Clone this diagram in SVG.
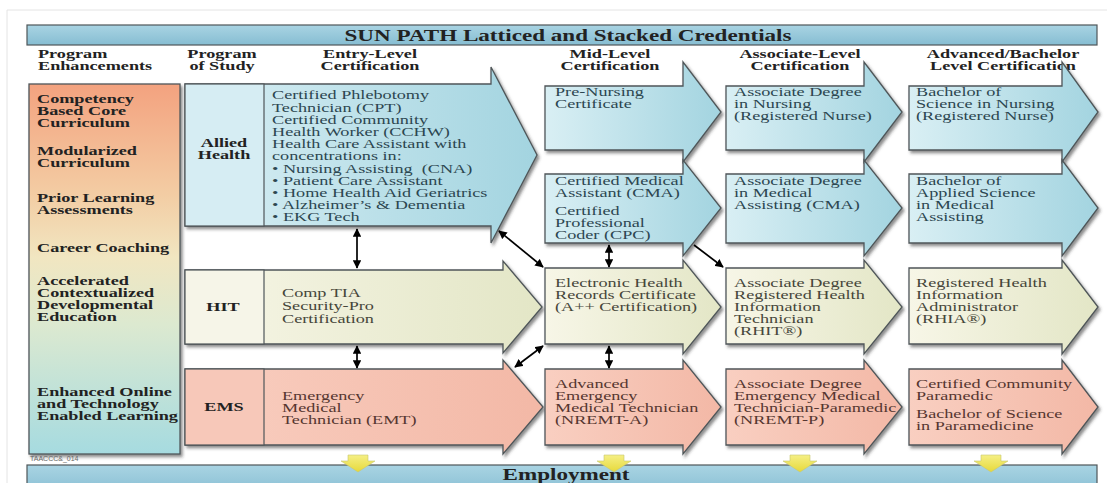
<svg xmlns="http://www.w3.org/2000/svg" width="1107" height="483" viewBox="0 0 1107 483">
<defs>
<style>
.b{font-family:"Liberation Serif","Times New Roman",serif;font-weight:bold;font-size:13px;fill:#222}
.r{font-family:"Liberation Serif","Times New Roman",serif;font-size:13px}
.tb{fill:#2c4650}.tc{fill:#46463a}.ts{fill:#553630}
.bx{stroke:#4f5659;stroke-width:1.3;filter:url(#sh)}
.cell{stroke:#4f5659;stroke-width:1.2}
.bl{fill:url(#gBlue)}.cr{fill:url(#gCream)}.sa{fill:url(#gSal)}
.da{stroke:#000;stroke-width:1.7;fill:none;marker-start:url(#ah);marker-end:url(#ah)}
.sg{stroke:#000;stroke-width:1.7;fill:none;marker-end:url(#ah)}
.ya{fill:url(#gy);stroke:#c8c870;stroke-width:.6}
</style>
<filter id="sh" x="-5%" y="-5%" width="115%" height="120%"><feDropShadow dx="2" dy="2.5" stdDeviation="1.5" flood-color="#333" flood-opacity=".55"/></filter>
<marker id="ah" viewBox="0 0 10 10" refX="9" refY="5" markerWidth="5" markerHeight="5" orient="auto-start-reverse"><path d="M0,0 L10,5 L0,10 z" fill="#000"/></marker>
<linearGradient id="gBlue" x1="0" y1="0" x2="1" y2="0"><stop offset="0" stop-color="#d9eff4"/><stop offset="1" stop-color="#a3d4e0"/></linearGradient>
<linearGradient id="gCream" x1="0" y1="0" x2="1" y2="0"><stop offset="0" stop-color="#f7f6e7"/><stop offset="1" stop-color="#e3e6c6"/></linearGradient>
<linearGradient id="gSal" x1="0" y1="0" x2="1" y2="0"><stop offset="0" stop-color="#f9cfc1"/><stop offset="1" stop-color="#f3b8a6"/></linearGradient>
<linearGradient id="gLeft" x1="0" y1="0" x2="0" y2="1"><stop offset="0" stop-color="#f3a27f"/><stop offset=".3" stop-color="#f3cda4"/><stop offset=".47" stop-color="#f1e6c1"/><stop offset=".65" stop-color="#dce9d0"/><stop offset="1" stop-color="#a6dbe0"/></linearGradient>
<linearGradient id="gBar" x1="0" y1="0" x2="0" y2="1"><stop offset="0" stop-color="#a9d4e3"/><stop offset="1" stop-color="#86bdd2"/></linearGradient>
<linearGradient id="gy" x1="0" y1="0" x2="0" y2="1"><stop offset="0" stop-color="#f5ef85"/><stop offset="1" stop-color="#e6d93a"/></linearGradient>
</defs>
<rect width="1107" height="483" fill="#fff"/>
<path d="M7,483 V10 H1107" fill="none" stroke="#e4e4e4" stroke-width="1"/>

<g id="title">
<rect x="27" y="25" width="1070" height="20" fill="url(#gBar)" stroke="#4f5659" stroke-width="1.2"/>
<text class="b" style="font-size:16.5px" text-anchor="middle" transform="matrix(1.4 0 0 1 568 0)" x="0" y="41">SUN PATH Latticed and Stacked Credentials</text>
</g>

<g id="headers">
<text class="b" transform="matrix(1.4 0 0 1 38 0)"><tspan x="0" y="58.5">Program</tspan><tspan x="0" y="70.5">Enhancements</tspan></text>
<text class="b" text-anchor="middle" transform="matrix(1.4 0 0 1 222 0)"><tspan x="0" y="58.5">Program</tspan><tspan x="0" y="70.5">of Study</tspan></text>
<text class="b" text-anchor="middle" transform="matrix(1.4 0 0 1 370 0)"><tspan x="0" y="58.5">Entry-Level</tspan><tspan x="0" y="70.5">Certification</tspan></text>
<text class="b" text-anchor="middle" transform="matrix(1.4 0 0 1 610 0)"><tspan x="0" y="58.5">Mid-Level</tspan><tspan x="0" y="70.5">Certification</tspan></text>
<text class="b" text-anchor="middle" transform="matrix(1.4 0 0 1 800 0)"><tspan x="0" y="58.5">Associate-Level</tspan><tspan x="0" y="70.5">Certification</tspan></text>
<text class="b" text-anchor="middle" transform="matrix(1.4 0 0 1 1003 0)"><tspan x="0" y="58.5">Advanced/Bachelor</tspan><tspan x="0" y="70.5">Level Certification</tspan></text>
</g>

<g id="enhancements">
<rect x="29" y="84" width="151" height="370" fill="url(#gLeft)" stroke="#4f5659" stroke-width="1.3" filter="url(#sh)"/>
<text class="b" transform="matrix(1.4 0 0 1 37 0)"><tspan x="0" y="103.5">Competency</tspan><tspan x="0" y="115.5">Based Core</tspan><tspan x="0" y="127.5">Curriculum</tspan><tspan x="0" y="155">Modularized</tspan><tspan x="0" y="167">Curriculum</tspan><tspan x="0" y="202.5">Prior Learning</tspan><tspan x="0" y="214.5">Assessments</tspan><tspan x="0" y="252.5">Career Coaching</tspan><tspan x="0" y="285.5">Accelerated</tspan><tspan x="0" y="297.5">Contextualized</tspan><tspan x="0" y="309.5">Developmental</tspan><tspan x="0" y="321.5">Education</tspan><tspan x="0" y="396.5">Enhanced Online</tspan><tspan x="0" y="408.5">and Technology</tspan><tspan x="0" y="420.5">Enabled Learning</tspan></text>
<text x="30" y="461" font-family="Liberation Sans, Arial, sans-serif" font-size="7" fill="#666">TAACCC&amp;_014</text>
</g>

<g id="allied-entry">
<polygon class="bx bl" points="185,84 491,84 491,67 537,155 491,243 491,226 185,226"/>
<rect class="cell" x="185" y="84" width="79" height="142" fill="#d6edf3"/>
<text class="b" text-anchor="middle" transform="matrix(1.4 0 0 1 224 0)"><tspan x="0" y="147.5">Allied</tspan><tspan x="0" y="159.5">Health</tspan></text>
<text class="r tb" transform="matrix(1.4 0 0 1 272 0)"><tspan x="0" y="99.5">Certified Phlebotomy</tspan><tspan x="0" y="111.7">Technician (CPT)</tspan><tspan x="0" y="123.9">Certified Community</tspan><tspan x="0" y="136.1">Health Worker (CCHW)</tspan><tspan x="0" y="148.3">Health Care Assistant with</tspan><tspan x="0" y="160.5">concentrations in:</tspan><tspan x="0" y="172.7">• Nursing Assisting &#160;(CNA)</tspan><tspan x="0" y="184.9">• Patient Care Assistant</tspan><tspan x="0" y="197.1">• Home Health Aid Geriatrics</tspan><tspan x="0" y="209.3">• Alzheimer’s &amp; Dementia</tspan><tspan x="0" y="221.5">• EKG Tech</tspan></text>
</g>

<g id="hit-entry">
<polygon class="bx cr" points="185,270 503,270 503,261 542,307 503,353 503,344 185,344"/>
<rect class="cell" x="185" y="270" width="79" height="74" fill="#f6f5e8"/>
<text class="b" text-anchor="middle" transform="matrix(1.4 0 0 1 223 0)" x="0" y="311.5">HIT</text>
<text class="r tc" transform="matrix(1.4 0 0 1 282 0)"><tspan x="0" y="297.5">Comp TIA</tspan><tspan x="0" y="310.5">Security-Pro</tspan><tspan x="0" y="323.5">Certification</tspan></text>
</g>

<g id="ems-entry">
<polygon class="bx sa" points="185,369 503,369 503,360 543,407 503,454 503,445 185,445"/>
<rect class="cell" x="185" y="369" width="79" height="76" fill="#f7c8b9"/>
<text class="b" text-anchor="middle" transform="matrix(1.4 0 0 1 224 0)" x="0" y="411.5">EMS</text>
<text class="r ts" transform="matrix(1.4 0 0 1 282 0)"><tspan x="0" y="400.5">Emergency</tspan><tspan x="0" y="412.5">Medical</tspan><tspan x="0" y="424.5">Technician (EMT)</tspan></text>
</g>

<g id="mid-prenursing">
<polygon class="bx bl" points="545,86 683,86 683,62 721,112 683,162 683,150 545,150"/>
<text class="r tb" transform="matrix(1.4 0 0 1 555 0)"><tspan x="0" y="96">Pre-Nursing</tspan><tspan x="0" y="108">Certificate</tspan></text>
</g>
<g id="assoc-nursing">
<polygon class="bx bl" points="726,86 864,86 864,62 902,112 864,162 864,150 726,150"/>
<text class="r tb" transform="matrix(1.4 0 0 1 734 0)"><tspan x="0" y="96">Associate Degree</tspan><tspan x="0" y="108">in Nursing</tspan><tspan x="0" y="120">(Registered Nurse)</tspan></text>
</g>
<g id="bach-nursing">
<polygon class="bx bl" points="909,86 1062,86 1062,62 1098,112 1062,162 1062,150 909,150"/>
<text class="r tb" transform="matrix(1.4 0 0 1 916 0)"><tspan x="0" y="96">Bachelor of</tspan><tspan x="0" y="108">Science in Nursing</tspan><tspan x="0" y="120">(Registered Nurse)</tspan></text>
</g>

<g id="mid-cma">
<polygon class="bx bl" points="545,174 683,174 683,160 721,208 683,256 683,243 545,243"/>
<text class="r tb" transform="matrix(1.4 0 0 1 555 0)"><tspan x="0" y="185.5">Certified Medical</tspan><tspan x="0" y="197.5">Assistant (CMA)</tspan><tspan x="0" y="215">Certified</tspan><tspan x="0" y="227">Professional</tspan><tspan x="0" y="239">Coder (CPC)</tspan></text>
</g>
<g id="assoc-medassist">
<polygon class="bx bl" points="726,174 864,174 864,160 902,208 864,256 864,243 726,243"/>
<text class="r tb" transform="matrix(1.4 0 0 1 734 0)"><tspan x="0" y="185.5">Associate Degree</tspan><tspan x="0" y="197.5">in Medical</tspan><tspan x="0" y="209.5">Assisting (CMA)</tspan></text>
</g>
<g id="bach-medassist">
<polygon class="bx bl" points="909,174 1062,174 1062,160 1098,208 1062,256 1062,243 909,243"/>
<text class="r tb" transform="matrix(1.4 0 0 1 916 0)"><tspan x="0" y="185.5">Bachelor of</tspan><tspan x="0" y="197.5">Applied Science</tspan><tspan x="0" y="209.5">in Medical</tspan><tspan x="0" y="221.5">Assisting</tspan></text>
</g>

<g id="mid-ehr">
<polygon class="bx cr" points="545,268 683,268 683,260 721,307 683,354 683,344 545,344"/>
<text class="r tc" transform="matrix(1.4 0 0 1 555 0)"><tspan x="0" y="287.5">Electronic Health</tspan><tspan x="0" y="299.5">Records Certificate</tspan><tspan x="0" y="311.5">(A++ Certification)</tspan></text>
</g>
<g id="assoc-rhit">
<polygon class="bx cr" points="726,268 864,268 864,260 902,307 864,354 864,344 726,344"/>
<text class="r tc" transform="matrix(1.4 0 0 1 734 0)"><tspan x="0" y="287.5">Associate Degree</tspan><tspan x="0" y="299.5">Registered Health</tspan><tspan x="0" y="311.5">Information</tspan><tspan x="0" y="323.5">Technician</tspan><tspan x="0" y="335.5">(RHIT®)</tspan></text>
</g>
<g id="bach-rhia">
<polygon class="bx cr" points="909,268 1062,268 1062,260 1098,307 1062,354 1062,344 909,344"/>
<text class="r tc" transform="matrix(1.4 0 0 1 916 0)"><tspan x="0" y="287.5">Registered Health</tspan><tspan x="0" y="299.5">Information</tspan><tspan x="0" y="311.5">Administrator</tspan><tspan x="0" y="323.5">(RHIA®)</tspan></text>
</g>

<g id="mid-aemt">
<polygon class="bx sa" points="545,369 683,369 683,360 721,407 683,454 683,445 545,445"/>
<text class="r ts" transform="matrix(1.4 0 0 1 555 0)"><tspan x="0" y="388.5">Advanced</tspan><tspan x="0" y="400.5">Emergency</tspan><tspan x="0" y="412.5">Medical Technician</tspan><tspan x="0" y="424.5">(NREMT-A)</tspan></text>
</g>
<g id="assoc-paramedic">
<polygon class="bx sa" points="726,369 864,369 864,360 902,407 864,454 864,445 726,445"/>
<text class="r ts" transform="matrix(1.4 0 0 1 734 0)"><tspan x="0" y="388.5">Associate Degree</tspan><tspan x="0" y="400.5">Emergency Medical</tspan><tspan x="0" y="412.5">Technician-Paramedic</tspan><tspan x="0" y="424.5">(NREMT-P)</tspan></text>
</g>
<g id="bach-paramedic">
<polygon class="bx sa" points="909,369 1062,369 1062,360 1098,407 1062,454 1062,445 909,445"/>
<text class="r ts" transform="matrix(1.4 0 0 1 916 0)"><tspan x="0" y="388.5">Certified Community</tspan><tspan x="0" y="400.5">Paramedic</tspan><tspan x="0" y="418">Bachelor of Science</tspan><tspan x="0" y="430">in Paramedicine</tspan></text>
</g>

<g id="employment">
<rect x="27" y="465" width="1070" height="30" fill="url(#gBar)" stroke="#4f5659" stroke-width="1.2"/>
<text class="b" style="font-size:16.5px" text-anchor="middle" transform="matrix(1.4 0 0 1 566 0)" x="0" y="480">Employment</text>
</g>

<g id="connectors">
<line class="da" x1="357" y1="229" x2="357" y2="268"/>
<line class="da" x1="357" y1="346" x2="357" y2="368"/>
<line class="da" x1="609" y1="245" x2="609" y2="267"/>
<line class="da" x1="609" y1="346" x2="609" y2="368"/>
<line class="da" x1="499" y1="231" x2="543" y2="267"/>
<line class="sg" x1="694" y1="245" x2="723" y2="267"/>
<line class="da" x1="515" y1="367" x2="543" y2="346"/>
<polygon class="ya" points="348,455 368,455 368,461 375,461 358,472 341,461 348,461"/>
<polygon class="ya" points="604,455 624,455 624,461 631,461 614,472 597,461 604,461"/>
<polygon class="ya" points="790,455 810,455 810,461 817,461 800,472 783,461 790,461"/>
<polygon class="ya" points="981,455 1001,455 1001,461 1008,461 991,472 974,461 981,461"/>
</g>
</svg>
